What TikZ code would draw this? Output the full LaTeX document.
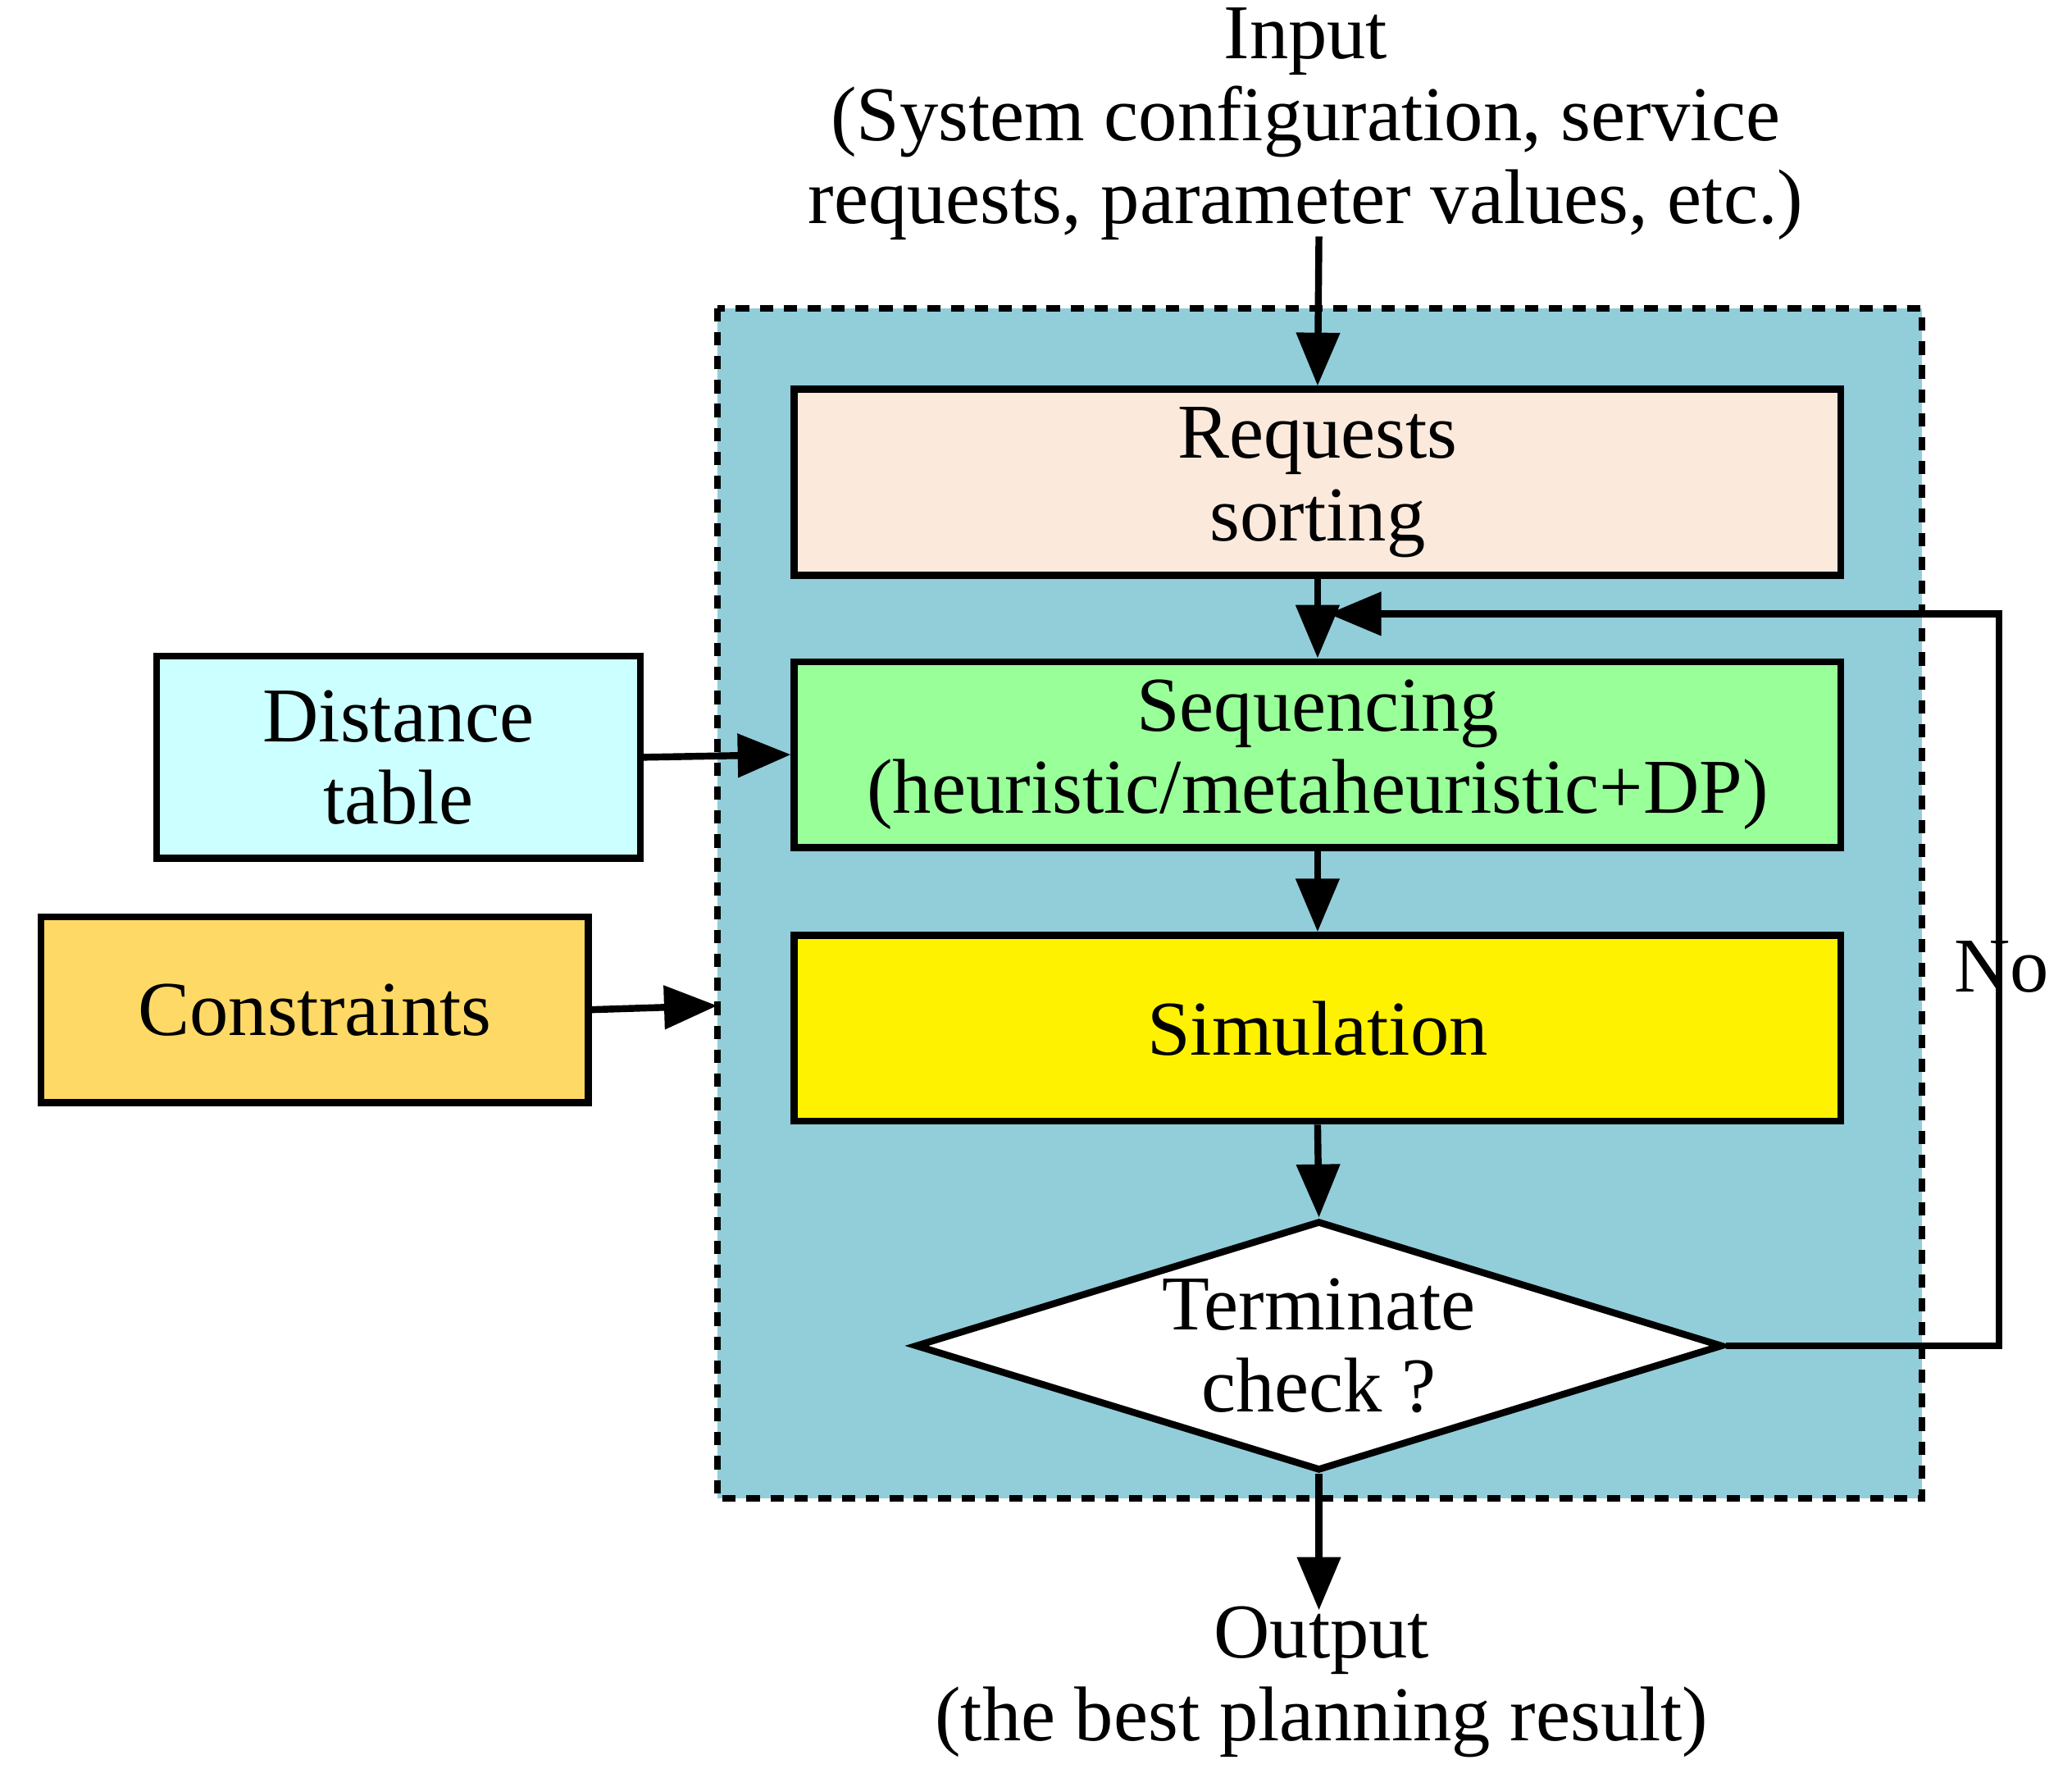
\documentclass[tikz,border=0pt]{standalone}
\usepackage{fontspec}
\setmainfont{Liberation Serif}
\usetikzlibrary{arrows.meta,shapes.geometric}
\begin{document}
\begin{tikzpicture}[x=0.25pt,y=-0.25pt,
  box/.style={draw,line width=1.3pt,align=center,font=\fontsize{14.6}{15.5}\selectfont},
  arr/.style={line width=1.3pt,-{Triangle[length=10pt,width=8pt]}},
  txt/.style={align=center,font=\fontsize{14.6}{15.5}\selectfont}]
\useasboundingbox (0,0) rectangle (1560,1331);
\fill[fill={rgb,255:red,146;green,205;blue,218}] (540,232) rectangle (1447,1128);
\draw[line width=1.3pt,dash pattern=on 2.5pt off 2pt] (540,232) rectangle (1447,1128);
\node[box,fill={rgb,255:red,251;green,233;blue,220},minimum width=197pt,minimum height=35pt] (req) at (992,363) {Requests\\sorting};
\node[box,fill={rgb,255:red,153;green,255;blue,153},minimum width=197pt,minimum height=35pt] (seq) at (992,568) {Sequencing\\(heuristic/metaheuristic+DP)};
\node[box,fill=yellow,minimum width=197pt,minimum height=35pt] (sim) at (992,774) {Simulation};
\node[box,fill=white,diamond,aspect=3.25,minimum width=152pt,minimum height=47pt,inner sep=0pt] (chk) at (993,1013) {Terminate\\check ?};
\node[box,fill={rgb,255:red,204;green,255;blue,255},minimum width=91pt,minimum height=38pt] (dist) at (300,570) {Distance\\table};
\node[box,fill={rgb,255:red,255;green,217;blue,102},minimum width=103pt,minimum height=35pt] (con) at (237,760) {Constraints};
\node[txt] (in) at (983,93) {Input\\(System configuration, service\\requests, parameter values, etc.)};
\node[txt] (out) at (995,1266) {Output\\(the best planning result)};
\node[txt] (no) at (1507,728) {No};
\coordinate (inA) at (993,178);
\coordinate (outB) at (993,1212);
\coordinate (c1) at (1505,1013);
\coordinate (c2) at (1505,462);
\coordinate (c3) at (1000,462);
\coordinate (conE) at (540,757);
\draw[arr] (inA) -- (req.north);
\draw[arr] (req.south) -- (seq.north);
\draw[arr] (seq.south) -- (sim.north);
\draw[arr] (sim.south) -- (chk.north);
\draw[arr] (chk.south) -- (outB);
\draw[arr] (dist.east) -- (seq.west);
\draw[arr] (con.east) -- (conE);
\draw[arr] (chk.east) -- (c1) -- (c2) -- (c3);
\end{tikzpicture}
\end{document}
